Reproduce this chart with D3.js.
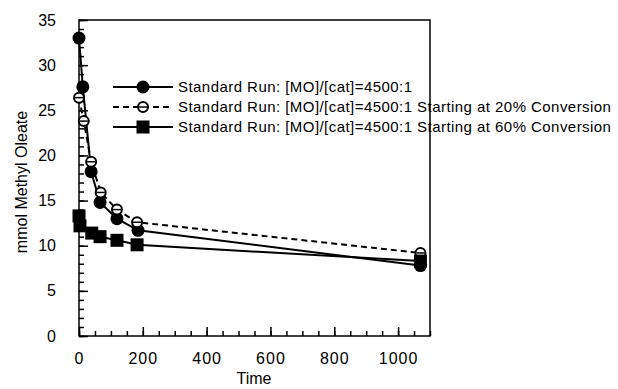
<!DOCTYPE html>
<html>
<head>
<meta charset="utf-8">
<script src="https://cdn.jsdelivr.net/npm/d3@7"></script>
<style>
  body { margin: 0; background: #fff; }
  text { font-family: "Liberation Sans", Arial, sans-serif; fill: #000; }
</style>
</head>
<body>
<svg id="chart" width="618" height="389"></svg>
<script>
// time (x) and mmol methyl oleate (y) for each run
const runA_t = [0, 12, 38, 66, 119, 185, 1070];
const runA_y = [33.0, 27.6, 18.2, 14.8, 13.0, 11.7, 7.8];

const runB_t = [0, 15, 38, 68, 119, 182, 1070];
const runB_y = [26.4, 23.8, 19.3, 15.9, 14.0, 12.6, 9.2];

const runC_t = [0, 3, 40, 66, 119, 182, 1070];
const runC_y = [13.3, 12.2, 11.4, 11.0, 10.6, 10.1, 8.3];

const seriesNames = [
  "Standard Run: [MO]/[cat]=4500:1",
  "Standard Run: [MO]/[cat]=4500:1 Starting at 20% Conversion",
  "Standard Run: [MO]/[cat]=4500:1 Starting at 60% Conversion"
];

const xTicks = [0, 200, 400, 600, 800, 1000];
const yTicks = [0, 5, 10, 15, 20, 25, 30, 35];

const pLeft = 79, pRight = 430, pTop = 20, pBottom = 336;

const svg = d3.select("#chart");

const x = d3.scaleLinear().domain([0, 1100]).range([pLeft, pRight]);
const y = d3.scaleLinear().domain([0, 35]).range([pBottom, pTop]);

// frame
svg.append("rect")
  .attr("x", pLeft).attr("y", pTop)
  .attr("width", pRight - pLeft).attr("height", pBottom - pTop)
  .attr("fill", "none").attr("stroke", "#000").attr("stroke-width", 1.5);

// minor ticks
svg.append("g")
  .attr("transform", `translate(${pLeft},0)`)
  .call(d3.axisLeft(y).tickValues(d3.range(0, 36, 1)).tickSize(-5).tickFormat(""))
  .call(g => g.select(".domain").remove())
  .selectAll("line").attr("stroke-width", 1.5);

svg.append("g")
  .attr("transform", `translate(0,${pBottom})`)
  .call(d3.axisBottom(x).tickValues(d3.range(0, 1101, 50)).tickSize(-5).tickFormat(""))
  .call(g => g.select(".domain").remove())
  .selectAll("line").attr("stroke-width", 1.5);

// major ticks with labels
const yAxis = svg.append("g")
  .attr("transform", `translate(${pLeft},0)`)
  .call(d3.axisLeft(y).tickValues(yTicks).tickSize(-9).tickPadding(23).tickFormat(d3.format("d")));
yAxis.select(".domain").remove();
yAxis.selectAll("line").attr("stroke-width", 1.5);
yAxis.selectAll("text").attr("font-size", 16).attr("font-family", null);

const xAxis = svg.append("g")
  .attr("transform", `translate(0,${pBottom})`)
  .call(d3.axisBottom(x).tickValues(xTicks).tickSize(-9).tickPadding(17).tickFormat(d3.format("d")));
xAxis.select(".domain").remove();
xAxis.selectAll("line").attr("stroke-width", 1.5);
xAxis.selectAll("text").attr("font-size", 16).attr("font-family", null)
  .attr("letter-spacing", 1);

// axis titles
svg.append("text")
  .attr("x", 254).attr("y", 384)
  .attr("text-anchor", "middle").attr("font-size", 16)
  .text("Time");

svg.append("text")
  .attr("transform", `translate(27,182) rotate(-90)`)
  .attr("text-anchor", "middle").attr("font-size", 16)
  .text("mmol Methyl Oleate");

const series = [
  { t: runA_t, v: runA_y, dash: null, marker: "dot" },
  { t: runB_t, v: runB_y, dash: "6,4", marker: "ring" },
  { t: runC_t, v: runC_y, dash: null, marker: "square" }
];

const line = d3.line().x(d => x(d[0])).y(d => y(d[1]));

function drawMarker(g, kind, cx, cy) {
  if (kind === "dot") {
    g.append("circle").attr("cx", cx).attr("cy", cy).attr("r", 6.5).attr("fill", "#000");
  } else if (kind === "ring") {
    g.append("circle").attr("cx", cx).attr("cy", cy).attr("r", 5)
      .attr("fill", "#fff").attr("stroke", "#000").attr("stroke-width", 2);
    g.append("line").attr("x1", cx - 4).attr("x2", cx + 4).attr("y1", cy).attr("y2", cy)
      .attr("stroke", "#000").attr("stroke-width", 1.5);
  } else {
    g.append("rect").attr("x", cx - 6.5).attr("y", cy - 6.5)
      .attr("width", 13).attr("height", 13).attr("fill", "#000");
  }
}

series.forEach(s => {
  const pts = s.t.map((t, i) => [t, s.v[i]]);
  svg.append("path")
    .datum(pts)
    .attr("d", line)
    .attr("fill", "none")
    .attr("stroke", "#000")
    .attr("stroke-width", 2)
    .attr("stroke-dasharray", s.dash);
  const g = svg.append("g");
  pts.forEach(p => drawMarker(g, s.marker, x(p[0]), y(p[1])));
});

// legend
const legend = svg.append("g");
series.forEach((s, i) => {
  const ly = 87 + i * 20;
  legend.append("line")
    .attr("x1", 113).attr("x2", 173).attr("y1", ly).attr("y2", ly)
    .attr("stroke", "#000").attr("stroke-width", 2)
    .attr("stroke-dasharray", s.dash);
  drawMarker(legend, s.marker, 143, ly);
  legend.append("text")
    .attr("x", 178).attr("y", ly + 5)
    .attr("font-size", 15)
    .attr("letter-spacing", 0.45)
    .text(seriesNames[i]);
});
</script>
</body>
</html>
